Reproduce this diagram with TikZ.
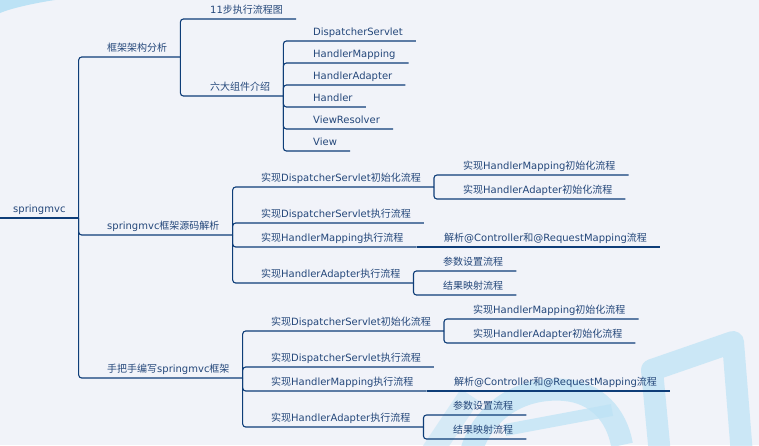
\documentclass[tikz,border=0pt]{standalone}
\usepackage{fontspec}
\setmainfont{DejaVu Sans}
\newfontfamily\zhfont{Noto Sans CJK SC}
\newcommand{\zh}[1]{{\zhfont #1}}
\definecolor{mapline}{HTML}{0E3D78}
\definecolor{maptext}{HTML}{24477A}
\definecolor{mapbg}{HTML}{F1F3F9}
\definecolor{wmblue}{HTML}{BCE2F5}

\begin{document}
\begin{tikzpicture}[x=1pt,y=-1pt,
  topic/.style={anchor=south west,inner xsep=13pt,inner ysep=0pt,
    text height=8pt,text depth=5.5pt,text=maptext,
    font=\fontsize{10}{12}\selectfont},
  link/.style={draw=mapline,line width=1.1pt,rounded corners=3pt}]

  \useasboundingbox (0,0) rectangle (759,445);
  \fill[mapbg] (0,0) rectangle (759,445);

  % faint watermark
  \fill[wmblue] (0,0) -- (55,0) .. controls (35,3) and (12,8) .. (0,13) -- cycle;
  \begin{scope}[wmblue,opacity=.7,line width=22pt,line join=round]
    \draw (660,455) -- (652,370) -- (733,342) -- (742,455);
    \draw (470,455) to[out=75,in=175] (565,390) to[out=-5,in=100] (622,445);
    \draw[line width=12pt] (505,430) -- (612,410);
    \draw[opacity=.5] (430,455) -- (470,395);
  \end{scope}

  \node[topic] (root) at (0,218) {springmvc};
  \node[topic] (arch) at (94,57) {\zh{框架架构分析}};
  \node[topic] (src) at (94,235) {springmvc\zh{框架源码解析}};
  \node[topic] (hand) at (94,378) {\zh{手把手编写}springmvc\zh{框架}};

  \node[topic] (steps) at (197,19) {11\zh{步执行流程图}};
  \node[topic] (six) at (197,96) {\zh{六大组件介绍}};

  \node[topic] (ds) at (300,41) {DispatcherServlet};
  \node[topic] (hm) at (300,63) {HandlerMapping};
  \node[topic] (ha) at (300,85) {HandlerAdapter};
  \node[topic] (hd) at (300,107) {Handler};
  \node[topic] (vr) at (300,129) {ViewResolver};
  \node[topic] (vw) at (300,151) {View};

  \node[topic] (dsInit) at (248,187) {\zh{实现}DispatcherServlet\zh{初始化流程}};
  \node[topic] (dsRun) at (248,223) {\zh{实现}DispatcherServlet\zh{执行流程}};
  \node[topic] (hmRun) at (248,247) {\zh{实现}HandlerMapping\zh{执行流程}};
  \node[topic] (haRun) at (248,283) {\zh{实现}HandlerAdapter\zh{执行流程}};
  \node[topic] (hmInit) at (450,175) {\zh{实现}HandlerMapping\zh{初始化流程}};
  \node[topic] (haInit) at (450,199) {\zh{实现}HandlerAdapter\zh{初始化流程}};
  \node[topic] (ctrl) at (431,247) {\zh{解析}@Controller\zh{和}@RequestMapping\zh{流程}};
  \node[topic] (param) at (430,271) {\zh{参数设置流程}};
  \node[topic] (result) at (430,295) {\zh{结果映射流程}};

  \node[topic] (dsInit2) at (258,331) {\zh{实现}DispatcherServlet\zh{初始化流程}};
  \node[topic] (dsRun2) at (258,367) {\zh{实现}DispatcherServlet\zh{执行流程}};
  \node[topic] (hmRun2) at (258,391) {\zh{实现}HandlerMapping\zh{执行流程}};
  \node[topic] (haRun2) at (258,427) {\zh{实现}HandlerAdapter\zh{执行流程}};
  \node[topic] (hmInit2) at (460,319) {\zh{实现}HandlerMapping\zh{初始化流程}};
  \node[topic] (haInit2) at (460,343) {\zh{实现}HandlerAdapter\zh{初始化流程}};
  \node[topic] (ctrl2) at (441,391) {\zh{解析}@Controller\zh{和}@RequestMapping\zh{流程}};
  \node[topic] (param2) at (440,415) {\zh{参数设置流程}};
  \node[topic] (result2) at (440,439) {\zh{结果映射流程}};

  \draw[link] (root.south west) -- (root.south east);
  \draw[link] (root.south east) |- (arch.south east);
  \draw[link] (root.south east) |- (src.south east);
  \draw[link] (root.south east) |- (hand.south east);

  \draw[link] (arch.south east) |- (steps.south east);
  \draw[link] (arch.south east) |- (six.south east);
  \draw[link] (six.south east) |- (ds.south east);
  \draw[link] (six.south east) |- (hm.south east);
  \draw[link] (six.south east) |- (ha.south east);
  \draw[link] (six.south east) |- (hd.south east);
  \draw[link] (six.south east) |- (vr.south east);
  \draw[link] (six.south east) |- (vw.south east);

  \draw[link] (src.south east) |- (dsInit.south east);
  \draw[link] (src.south east) |- (dsRun.south east);
  \draw[link] (src.south east) |- (hmRun.south east);
  \draw[link] (src.south east) |- (haRun.south east);
  \draw[link] (dsInit.south east) |- (hmInit.south east);
  \draw[link] (dsInit.south east) |- (haInit.south east);
  \draw[link] (hmRun.south east) -- (ctrl.south east);
  \draw[link] (haRun.south east) |- (param.south east);
  \draw[link] (haRun.south east) |- (result.south east);

  \draw[link] (hand.south east) |- (dsInit2.south east);
  \draw[link] (hand.south east) |- (dsRun2.south east);
  \draw[link] (hand.south east) |- (hmRun2.south east);
  \draw[link] (hand.south east) |- (haRun2.south east);
  \draw[link] (dsInit2.south east) |- (hmInit2.south east);
  \draw[link] (dsInit2.south east) |- (haInit2.south east);
  \draw[link] (hmRun2.south east) -- (ctrl2.south east);
  \draw[link] (haRun2.south east) |- (param2.south east);
  \draw[link] (haRun2.south east) |- (result2.south east);
\end{tikzpicture}
\end{document}
